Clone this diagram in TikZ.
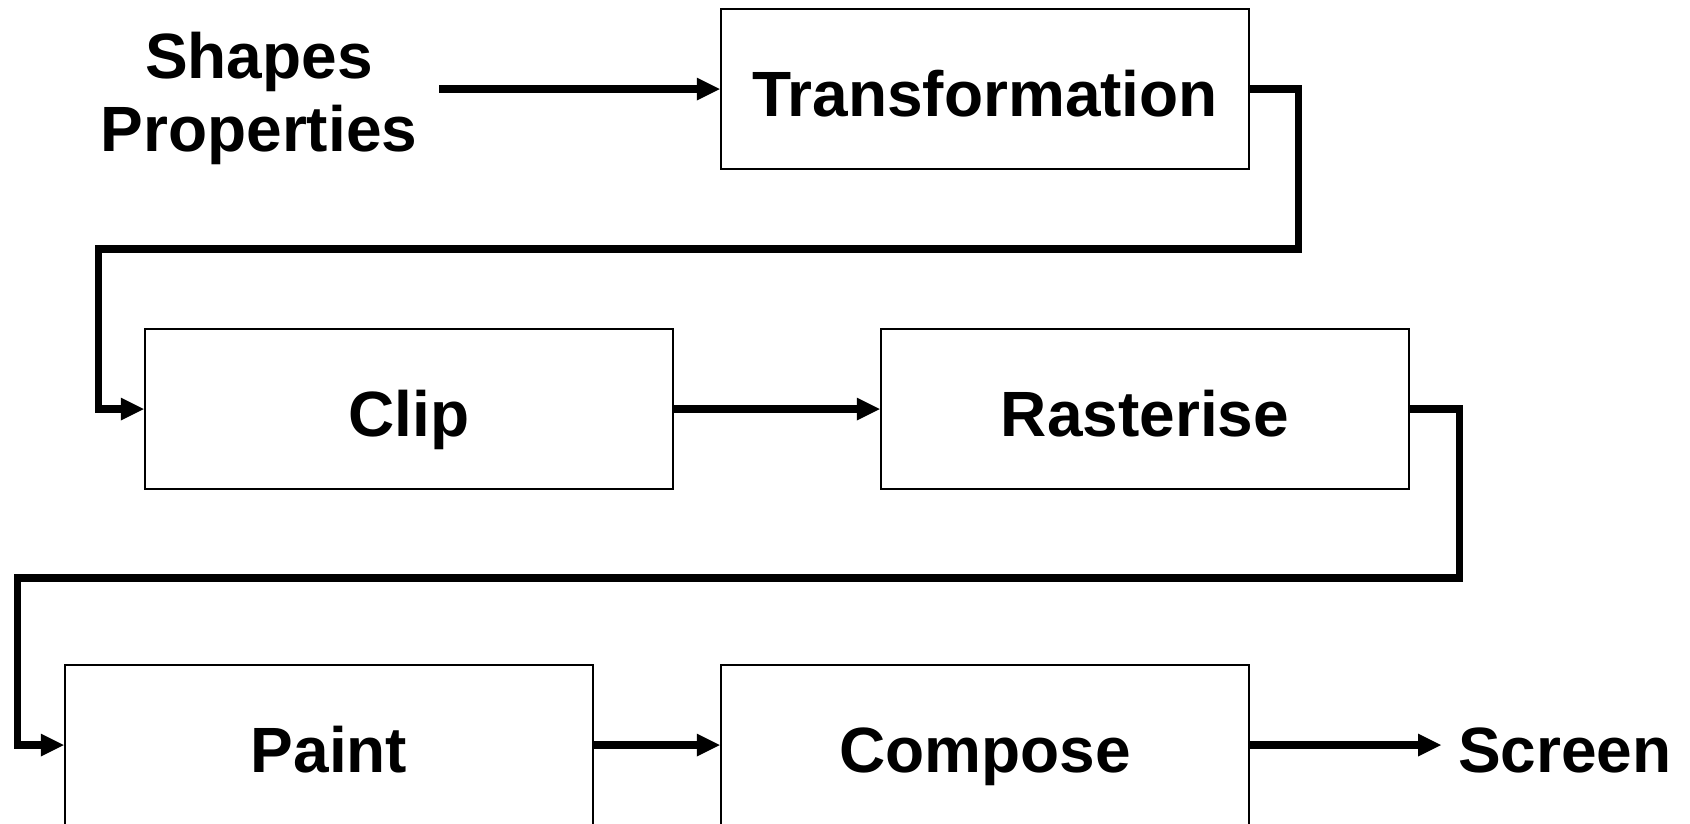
\documentclass[tikz,border=0pt]{standalone}
\usepackage{fontspec}
\setmainfont{Liberation Sans}
\usetikzlibrary{arrows.meta}

\begin{document}
\begin{tikzpicture}[x=1pt, y=-1pt,
    font=\fontsize{64}{73}\selectfont\bfseries,
    stage/.style={draw, line width=2.5pt, minimum width=528pt, minimum height=160pt,
      inner sep=0pt, text height=54pt, text depth=0pt},
    conn/.style={line width=7.3pt, -{Triangle[length=23pt,width=23pt,line width=0pt]}}]
    \useasboundingbox (0,0) rectangle (1690,823);
    \node[align=center, inner ysep=0pt, inner xsep=22pt] (props) at (259,98) {Shapes\\Properties};
    \node[stage] (trans) at (985,89) {Transformation};
    \node[stage] (clip) at (409,409) {Clip};
    \node[stage] (rast) at (1145,409) {Rasterise};
    \node[stage] (paint) at (329,745) {Paint};
    \node[stage] (comp) at (985,745) {Compose};
    \node[anchor=west, inner sep=0pt, text height=54pt, text depth=0pt] (screen) at (1458,745) {Screen};
    \draw[conn] (props.east |- trans.west) -- (trans.west);
    \draw[conn] (trans.east) -- ++(48,0) |- ++(-1200,160) |- (clip.west);
    \draw[conn] (clip.east) -- (rast.west);
    \draw[conn] (rast.east) -- ++(49,0) |- ++(-1442,169) |- (paint.west);
    \draw[conn] (paint.east) -- (comp.west);
    \draw[conn] (comp.east) -- ([xshift=-17pt]screen.west);
\end{tikzpicture}
\end{document}
